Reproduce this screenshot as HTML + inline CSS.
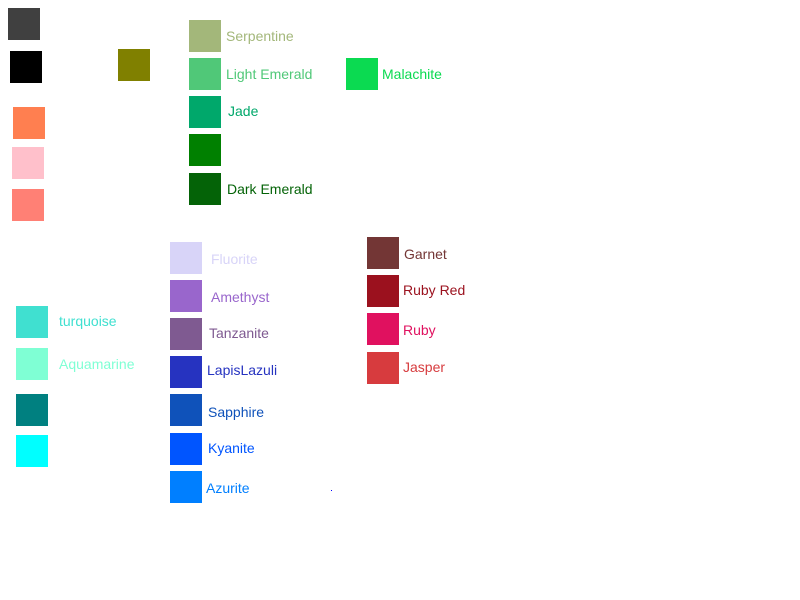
<!DOCTYPE html>
<html><head><meta charset="utf-8"><style>
body{margin:0;width:800px;height:600px;background:#fff;position:relative;overflow:hidden;font-family:"Liberation Sans",sans-serif;font-size:14px}
.s{position:absolute;width:32px;height:32px}
.t{position:absolute;line-height:16px;white-space:nowrap}
</style></head><body>
<div id="root"></div>
<div style="position:absolute;left:331px;top:490px;width:1px;height:1px;background:#00f"></div>
<script>
const names=["","","","","","","Serpentine","Light Emerald","Jade","","Dark Emerald","Malachite","Fluorite","Amethyst","Tanzanite","LapisLazuli","Sapphire","Kyanite","Azurite","turquoise","Aquamarine","","","Garnet","Ruby Red","Ruby","Jasper"];
const colors=["#404040","#000000","#808000","#FF7F50","#FFC0CB","#FF8075","#A3B77A","#50C878","#00A86B","#008000","#046307","#0BDA51","#D8D4F8","#9966CC","#7F5A91","#2633C0","#0F52BA","#0055FF","#007FFF","#40E0D0","#7FFFD4","#008080","#00FFFF","#733635","#9B111E","#E0115F","#D73B3E"];
const boxX=[8,10,118,13,12,12,189,189,189,189,189,346,170,170,170,170,170,170,170,16,16,16,16,367,367,367,367];
const boxY=[8,51,49,107,147,189,20,58,96,134,173,58,242,280,318,356,394,433,471,306,348,394,435,237,275,313,352];
const textX=[0,0,0,0,0,0,226,226,228,0,227,382,211,211,209,207,208,208,206,59,59,0,0,404,403,403,403];
const textY=[0,0,0,0,0,0,36,74,111,0,189,74,259,297,333,370,412,448,488,321,364,0,0,254,290,330,367];
const root=document.getElementById('root');
for(let i=0;i<colors.length;i++){
  const b=document.createElement('div');
  b.className='s';b.style.left=boxX[i]+'px';b.style.top=boxY[i]+'px';b.style.background=colors[i];
  
  
  root.appendChild(b);
  if(names[i]){
    const t=document.createElement('div');
    t.className='t';t.textContent=names[i];t.style.color=colors[i];
    t.style.left=textX[i]+'px';t.style.top=(textY[i]-8)+'px';
    
    
    root.appendChild(t);
  }
}
</script>
</body></html>
